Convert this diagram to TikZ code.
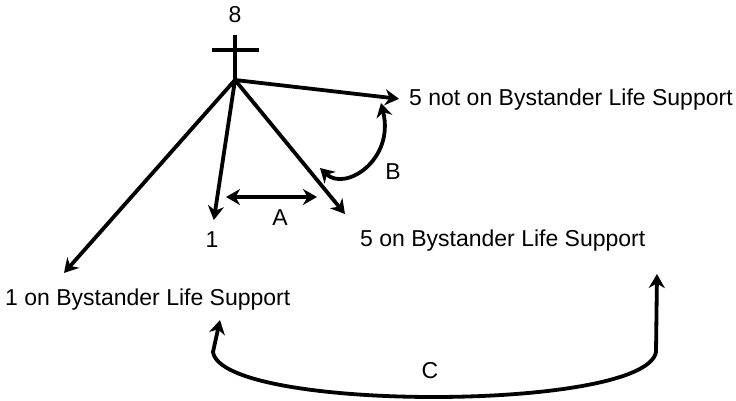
\documentclass[tikz,border=0pt]{standalone}
\usepackage{fontspec}
\setmainfont{Liberation Sans}
\usepackage{tikz}
\usetikzlibrary{arrows.meta}

\begin{document}
\begin{tikzpicture}[
  x=1pt, y=-1pt,
  txt/.style={inner sep=0pt, font=\fontsize{23}{27}\selectfont},
  lbl/.style={txt, anchor=west},
  punta/.tip={Stealth[length=14pt,width=16pt,inset=4.5pt]},
  flecha/.style={line width=3.8pt, -punta},
  doble/.style={line width=3.8pt, punta-punta}
]
  \useasboundingbox (0,0) rectangle (736,401);
  % cruz
  \node[txt] (ocho) at (235,15) {8};
  \coordinate (top) at (235,35);
  \coordinate (ápice) at (235,80);
  \coordinate (izq) at (212,50);
  \coordinate (der) at (259,50);
  \draw[line width=3.8pt] (top) -- (ápice) (izq) -- (der);
  % etiquetas
  \node[lbl] (notbls) at (409,100) {5 not on Bystander Life Support};
  \node[lbl] (cincobls) at (360,241) {5 on Bystander Life Support};
  \node[txt] (uno) at (212,240) {1};
  \node[lbl] (unobls) at (5,300) {1 on Bystander Life Support};
  % flechas
  \draw[flecha, shorten >=10pt] (ápice) -- (notbls.west);
  \draw[flecha, shorten >=12pt] (ápice) -- (uno.north);
  \draw[flecha] (ápice) -- (345,214);
  \draw[flecha] (ápice) -- (64,273);
  % A
  \coordinate (a1) at (226,197);
  \coordinate (a2) at (317,197);
  \draw[doble] (a1) -- (a2);
  \node[txt] (A) at (280,218) {A};
  % B
  \coordinate (b1) at (320,168);
  \coordinate (b2) at (381,103);
  \draw[doble] (b1) .. controls (345,192) and (395,160) .. (b2);
  \node[txt] (B) at (393,172) {B};
  % C
  \coordinate (c1) at (220,320);
  \coordinate (c2) at (657,274);
  \draw[doble] (c1) -- (213,352) .. controls (222,412) and (645,412) .. (656,352) -- (c2);
  \node[txt] (C) at (430,371) {C};
\end{tikzpicture}
\end{document}
